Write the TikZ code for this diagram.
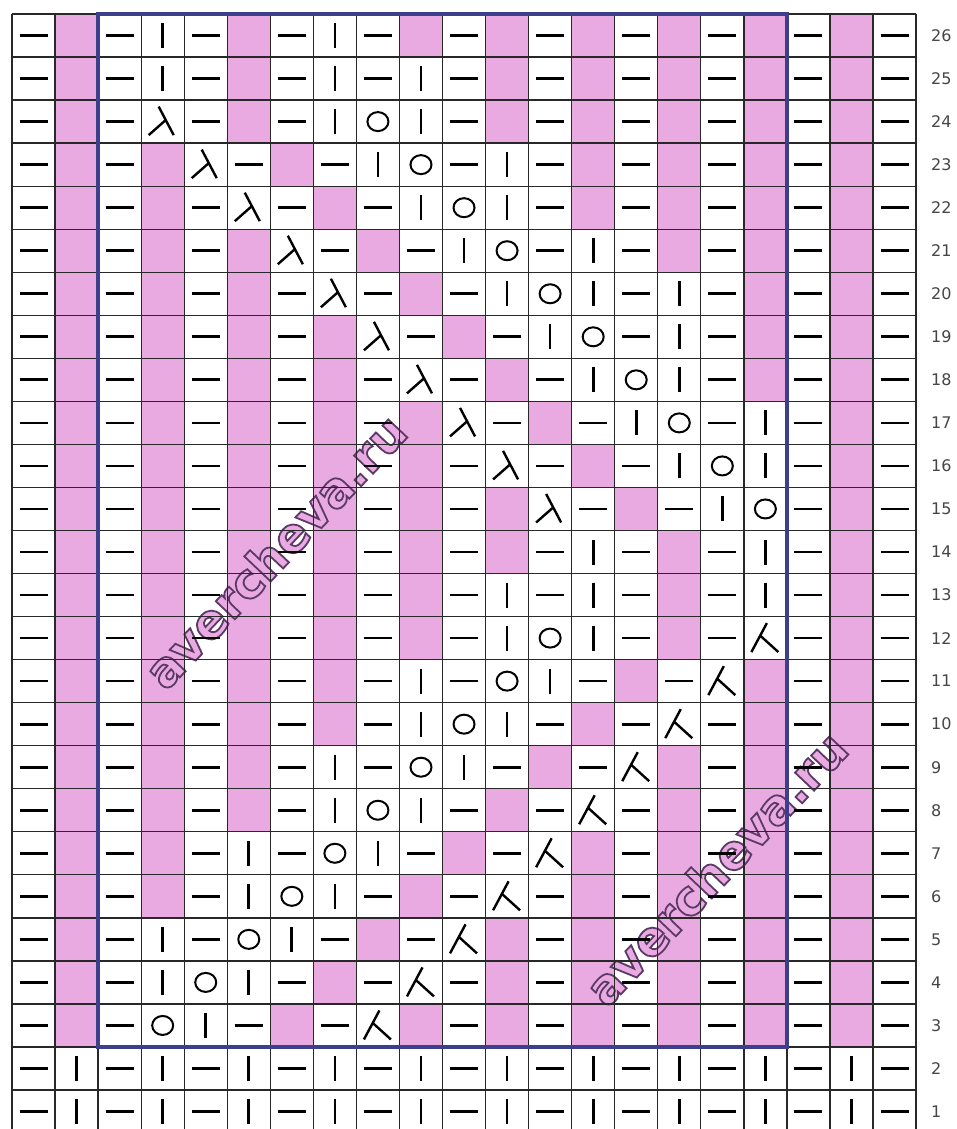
\documentclass[tikz,border=0pt]{standalone}
\usepackage{fontspec}
\newfontfamily\numfont{DejaVu Sans}
\newfontfamily\wmfont{DejaVu Sans}
\definecolor{kpink}{RGB}{233,170,226}
\definecolor{kgrid}{RGB}{40,40,40}
\definecolor{kblue}{RGB}{60,64,140}
\definecolor{knum}{RGB}{70,70,70}
\pgfdeclarelayer{bg}
\pgfdeclarelayer{wm}
\pgfsetlayers{bg,wm,main}
\tikzset{
  pinkc/.style={fill=kpink},
  gridl/.style={draw=kgrid,line width=1.3pt},
  symline/.style={draw=black,line width=2.7pt},
  symcirc/.style={draw=black,line width=2pt},
  symdiag/.style={draw=black,line width=2.4pt},
  frame/.style={draw=kblue,line width=3.5pt},
  rownum/.style={font=\numfont\fontsize{16}{18}\selectfont,text=knum,anchor=west,inner sep=0pt},
  wmtext/.style={rotate=46.5,inner sep=0pt,text=kpink,font=\wmfont\bfseries\fontsize{48}{52}\selectfont}
}
% outlined watermark text: pink fill, dark purple stroke
\newcommand\wmword{\special{pdf:literal direct 0.361 0.227 0.408 RG 2 Tr 1.8 w}avercheva.ru\special{pdf:literal direct 0 Tr}}
% #1 column, #2 row number, #3 symbol code
% 0 purl dash, 1 pink cell, 2 knit bar, 3 yarn over, 4 lambda, 5 inverted lambda
\newcommand\kcell[3]{%
  \pgfmathsetmacro\kx{12+43.05*(#1-0.5)}%
  \pgfmathsetmacro\ky{14+43.04*(26-#2+0.5)}%
  \ifcase#3\relax
    \draw[symline] (\kx-14,\ky) -- (\kx+14,\ky);
  \or
    \begin{pgfonlayer}{bg}
      \fill[pinkc] (\kx-21.525,\ky-21.52) rectangle (\kx+21.525,\ky+21.52);
    \end{pgfonlayer}
  \or
    \draw[symline] (\kx,\ky-12.5) -- (\kx,\ky+12.5);
  \or
    \draw[symcirc] (\kx,\ky) ellipse[x radius=10.5, y radius=9.5];
  \or
    \draw[symdiag] (\kx-4,\ky-15) -- (\kx+11,\ky+13.5) (\kx+3,\ky-1.5) -- (\kx-14,\ky+13.5);
  \or
    \draw[symdiag] (\kx+1.5,\ky-15) -- (\kx-14,\ky+14) (\kx-5.2,\ky-2.5) -- (\kx+13,\ky+14);
  \fi}
\begin{document}
\begin{tikzpicture}[x=1pt,y=-1pt]
\useasboundingbox (0,0) rectangle (957,1129);
\clip (0,0) rectangle (957,1129);
\begin{pgfonlayer}{bg}
\fill[white] (0,0) rectangle (957,1129);
\end{pgfonlayer}
% chart rows
\foreach \s [count=\c] in {0,1,0,2,0,1,0,2,0,1,0,1,0,1,0,1,0,1,0,1,0} {\kcell{\c}{26}{\s}}
\foreach \s [count=\c] in {0,1,0,2,0,1,0,2,0,2,0,1,0,1,0,1,0,1,0,1,0} {\kcell{\c}{25}{\s}}
\foreach \s [count=\c] in {0,1,0,4,0,1,0,2,3,2,0,1,0,1,0,1,0,1,0,1,0} {\kcell{\c}{24}{\s}}
\foreach \s [count=\c] in {0,1,0,1,4,0,1,0,2,3,0,2,0,1,0,1,0,1,0,1,0} {\kcell{\c}{23}{\s}}
\foreach \s [count=\c] in {0,1,0,1,0,4,0,1,0,2,3,2,0,1,0,1,0,1,0,1,0} {\kcell{\c}{22}{\s}}
\foreach \s [count=\c] in {0,1,0,1,0,1,4,0,1,0,2,3,0,2,0,1,0,1,0,1,0} {\kcell{\c}{21}{\s}}
\foreach \s [count=\c] in {0,1,0,1,0,1,0,4,0,1,0,2,3,2,0,2,0,1,0,1,0} {\kcell{\c}{20}{\s}}
\foreach \s [count=\c] in {0,1,0,1,0,1,0,1,4,0,1,0,2,3,0,2,0,1,0,1,0} {\kcell{\c}{19}{\s}}
\foreach \s [count=\c] in {0,1,0,1,0,1,0,1,0,4,0,1,0,2,3,2,0,1,0,1,0} {\kcell{\c}{18}{\s}}
\foreach \s [count=\c] in {0,1,0,1,0,1,0,1,0,1,4,0,1,0,2,3,0,2,0,1,0} {\kcell{\c}{17}{\s}}
\foreach \s [count=\c] in {0,1,0,1,0,1,0,1,0,1,0,4,0,1,0,2,3,2,0,1,0} {\kcell{\c}{16}{\s}}
\foreach \s [count=\c] in {0,1,0,1,0,1,0,1,0,1,0,1,4,0,1,0,2,3,0,1,0} {\kcell{\c}{15}{\s}}
\foreach \s [count=\c] in {0,1,0,1,0,1,0,1,0,1,0,1,0,2,0,1,0,2,0,1,0} {\kcell{\c}{14}{\s}}
\foreach \s [count=\c] in {0,1,0,1,0,1,0,1,0,1,0,2,0,2,0,1,0,2,0,1,0} {\kcell{\c}{13}{\s}}
\foreach \s [count=\c] in {0,1,0,1,0,1,0,1,0,1,0,2,3,2,0,1,0,5,0,1,0} {\kcell{\c}{12}{\s}}
\foreach \s [count=\c] in {0,1,0,1,0,1,0,1,0,2,0,3,2,0,1,0,5,1,0,1,0} {\kcell{\c}{11}{\s}}
\foreach \s [count=\c] in {0,1,0,1,0,1,0,1,0,2,3,2,0,1,0,5,0,1,0,1,0} {\kcell{\c}{10}{\s}}
\foreach \s [count=\c] in {0,1,0,1,0,1,0,2,0,3,2,0,1,0,5,1,0,1,0,1,0} {\kcell{\c}{9}{\s}}
\foreach \s [count=\c] in {0,1,0,1,0,1,0,2,3,2,0,1,0,5,0,1,0,1,0,1,0} {\kcell{\c}{8}{\s}}
\foreach \s [count=\c] in {0,1,0,1,0,2,0,3,2,0,1,0,5,1,0,1,0,1,0,1,0} {\kcell{\c}{7}{\s}}
\foreach \s [count=\c] in {0,1,0,1,0,2,3,2,0,1,0,5,0,1,0,1,0,1,0,1,0} {\kcell{\c}{6}{\s}}
\foreach \s [count=\c] in {0,1,0,2,0,3,2,0,1,0,5,1,0,1,0,1,0,1,0,1,0} {\kcell{\c}{5}{\s}}
\foreach \s [count=\c] in {0,1,0,2,3,2,0,1,0,5,0,1,0,1,0,1,0,1,0,1,0} {\kcell{\c}{4}{\s}}
\foreach \s [count=\c] in {0,1,0,3,2,0,1,0,5,1,0,1,0,1,0,1,0,1,0,1,0} {\kcell{\c}{3}{\s}}
\foreach \s [count=\c] in {0,2,0,2,0,2,0,2,0,2,0,2,0,2,0,2,0,2,0,2,0} {\kcell{\c}{2}{\s}}
\foreach \s [count=\c] in {0,2,0,2,0,2,0,2,0,2,0,2,0,2,0,2,0,2,0,2,0} {\kcell{\c}{1}{\s}}
% grid
\foreach \i in {0,...,21} {\draw[gridl] ({12+43.05*\i},14) -- ({12+43.05*\i},1133);}
\foreach \j in {0,...,26} {\draw[gridl] (12,{14+43.04*\j}) -- (916,{14+43.04*\j});}
% frame
\draw[frame] (98.1,14) rectangle (786.9,1047.0);
% watermarks
\begin{pgfonlayer}{wm}
\node[wmtext] (wm1) at (275,551) {\wmword};
\node[wmtext] (wm2) at (716,868) {\wmword};
\end{pgfonlayer}
% row numbers
\foreach \r in {1,...,26} {\node[rownum] (n\r) at (931,{14+43.04*(26-\r+0.5)}) {\r};}
\end{tikzpicture}
\end{document}
